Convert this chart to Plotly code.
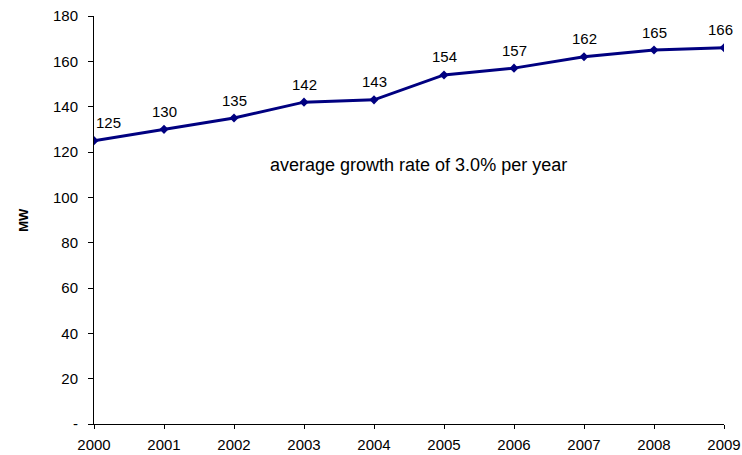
import plotly.graph_objects as go

years = [2000, 2001, 2002, 2003, 2004, 2005, 2006, 2007, 2008, 2009]
mw = [125, 130, 135, 142, 143, 154, 157, 162, 165, 166]
y_ticks = [0, 20, 40, 60, 80, 100, 120, 140, 160, 180]
y_tick_text = ["-", "20", "40", "60", "80", "100", "120", "140", "160", "180"]
note = "average growth rate of 3.0% per year"

font_family = "Liberation Sans, Arial, sans-serif"
navy = "#000080"

fig = go.Figure()
fig.add_trace(go.Scatter(
    x=years, y=mw, mode="lines+markers",
    line=dict(color=navy, width=3),
    marker=dict(symbol="diamond", size=7, color=navy),
    hoverinfo="x+y", showlegend=False,
))

# value labels above each point; the end ones are nudged inside the plot
for i, (yr, v) in enumerate(zip(years, mw)):
    fig.add_annotation(
        x=yr, y=v, text=str(v), showarrow=False,
        yanchor="middle", yshift=18,
        xshift=14 if i == 0 else (-4 if i == len(years) - 1 else 0),
        font=dict(family=font_family, size=15, color="black"),
    )

fig.add_annotation(
    x=2004.64, y=114.3, text=note, showarrow=False,
    xanchor="center", yanchor="middle",
    font=dict(family=font_family, size=18, color="black"),
)

fig.add_annotation(
    xref="paper", yref="paper", x=-0.113, y=0.5, text="<b>MW</b>",
    textangle=-90, showarrow=False, xanchor="center", yanchor="middle",
    font=dict(family=font_family, size=13, color="black"),
)

fig.update_layout(
    width=742, height=455,
    margin=dict(l=94, r=18, t=16, b=31, autoexpand=False),
    paper_bgcolor="white", plot_bgcolor="white",
    font=dict(family=font_family, size=15, color="black"),
)
fig.update_xaxes(
    range=[2000, 2009], tickmode="array", tickvals=years,
    ticktext=[str(y) for y in years], automargin=False,
    showline=True, linecolor="black", linewidth=1,
    ticks="outside", ticklen=4, tickcolor="black", ticklabelstandoff=3,
    showgrid=False, zeroline=False, tickfont=dict(size=15),
)
fig.update_yaxes(
    range=[0, 180], tickmode="array", tickvals=y_ticks, ticktext=y_tick_text,
    automargin=False,
    showline=True, linecolor="black", linewidth=1,
    ticks="outside", ticklen=5, tickcolor="black", ticklabelstandoff=7,
    showgrid=False, zeroline=False, tickfont=dict(size=15),
)

fig.write_html("out.html")
